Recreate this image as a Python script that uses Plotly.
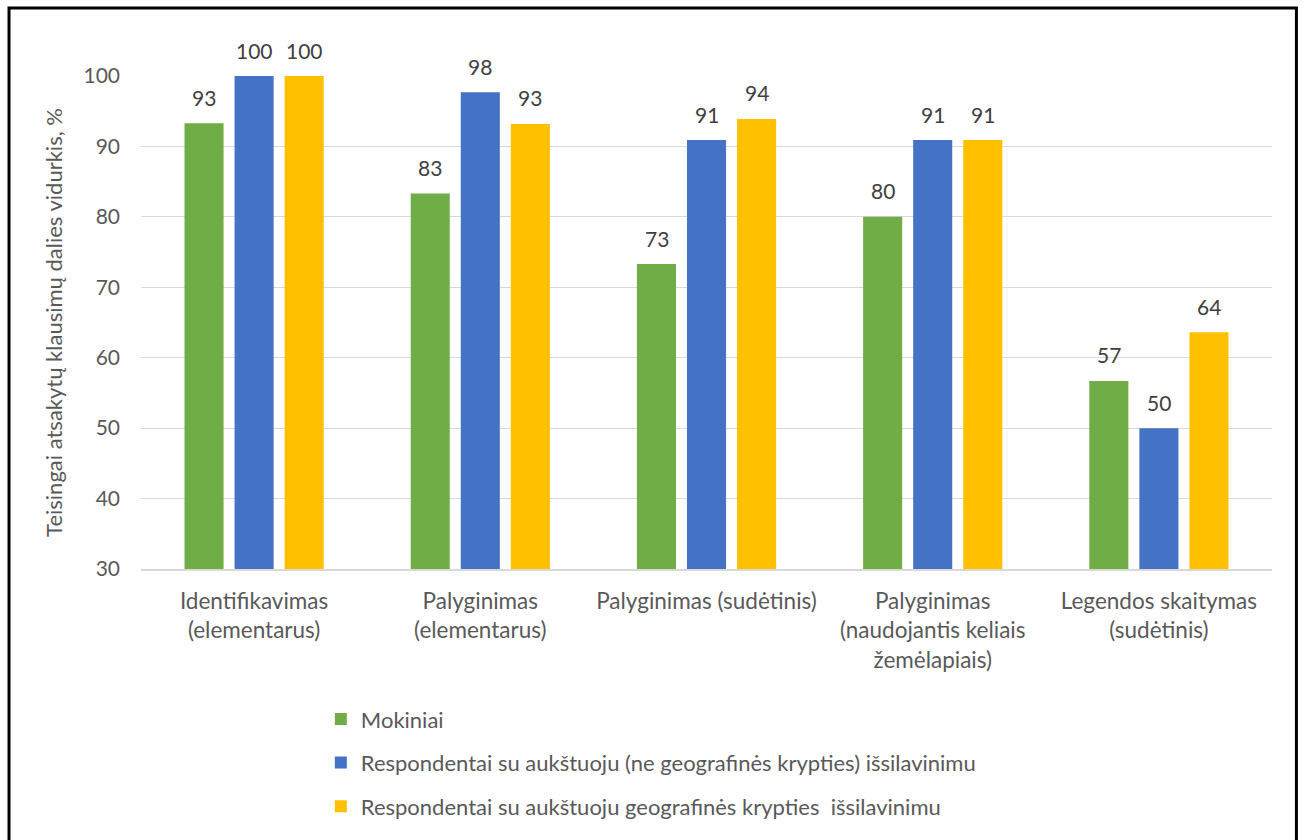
import plotly.graph_objects as go

categories = [
    "Identifikavimas<br>(elementarus)",
    "Palyginimas<br>(elementarus)",
    "Palyginimas (sudėtinis)",
    "Palyginimas<br>(naudojantis keliais<br>žemėlapiais)",
    "Legendos skaitymas<br>(sudėtinis)",
]
series_names = [
    "Mokiniai",
    "Respondentai su aukštuoju (ne geografinės krypties) išsilavinimu",
    "Respondentai su aukštuoju geografinės krypties  išsilavinimu",
]
mokiniai = [93.3, 83.3, 73.3, 80.0, 56.7]
ne_geo = [100.0, 97.7, 90.9, 90.9, 50.0]
geo = [100.0, 93.2, 93.9, 90.9, 63.6]
colors = ["#70AD47", "#4472C4", "#FFC000"]

FONT = "Lato, 'Open Sans', sans-serif"
TXT = "#595959"

fig = go.Figure()
annotations = []
all_series = [mokiniai, ne_geo, geo]
for i, (name, vals) in enumerate(zip(series_names, all_series)):
    fig.add_trace(go.Bar(
        x=categories, y=vals, name=name,
        marker=dict(color=colors[i], line=dict(width=0)),
        legendgroup=f"g{i}",
    ))
    for c, v in zip(categories, vals):
        annotations.append(dict(
            x=c, y=v, xref="x", yref="y", text=f"{v:.0f}", showarrow=False,
            xshift=(i - 1) * 50, yshift=26, yanchor="middle",
            font=dict(size=21, color="#404040", family=FONT),
        ))

fig.update_layout(
    width=1305, height=840,
    margin=dict(l=141, r=33, t=76, b=271, autoexpand=False),
    paper_bgcolor="white", plot_bgcolor="white",
    barmode="group", bargap=0.336, bargroupgap=0.22,
    font=dict(family=FONT, color=TXT, size=18),
    showlegend=True,
    legend=dict(
        orientation="v", x=0.159, xanchor="left", y=-0.262, yanchor="top",
        font=dict(size=22, color=TXT, family=FONT),
        tracegroupgap=12, itemwidth=30, bgcolor="rgba(0,0,0,0)",
    ),
    xaxis=dict(
        showgrid=False, showline=True, linecolor="#d9d9d9", linewidth=2,
        tickfont=dict(size=22.5, color=TXT), ticks="", ticklabelstandoff=11,
        automargin=False,
    ),
    yaxis=dict(
        range=[30, 100], dtick=10, showgrid=True, gridcolor="#d9d9d9", gridwidth=1,
        zeroline=False, showline=False, ticks="",
        tickfont=dict(size=21, color=TXT), ticklabelstandoff=20,
        title=dict(text="Teisingai atsakytų klausimų dalies vidurkis, %",
                   font=dict(size=22, color=TXT), standoff=14),
        automargin=False,
    ),
    annotations=annotations,
    shapes=[dict(type="rect", xref="paper", yref="paper",
                 x0=-0.1167, x1=1.0216, y0=-0.56, y1=1.138,
                 line=dict(color="black", width=3), layer="above")],
)

fig.write_html("out.html")
